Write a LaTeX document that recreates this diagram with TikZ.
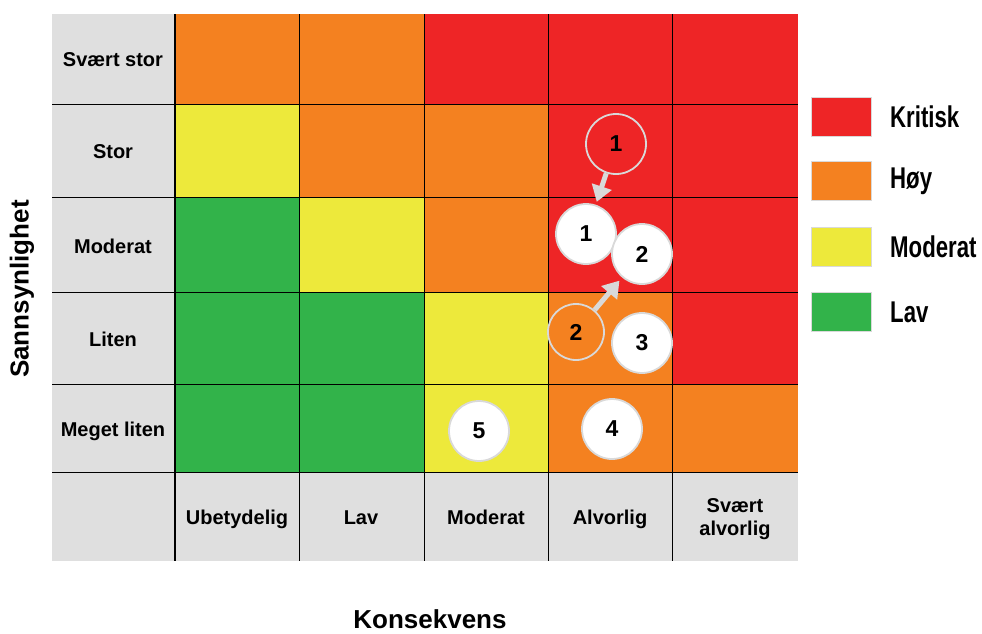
\documentclass[tikz,border=0pt]{standalone}
\usepackage{fontspec}
\setmainfont{Liberation Sans}
\newfontfamily\narrowsans[FakeStretch=0.74]{Liberation Sans}
\usetikzlibrary{arrows.meta}
\definecolor{riskred}{HTML}{EE2526}
\definecolor{riskorange}{HTML}{F48120}
\definecolor{riskyellow}{HTML}{EDE93B}
\definecolor{riskgreen}{HTML}{32B34A}
\definecolor{labelgray}{HTML}{DFDFDF}
\definecolor{ringgray}{HTML}{D9D9D9}

\begin{document}
\begin{tikzpicture}[x=1pt,y=-1pt,
 font=\bfseries\fontsize{20}{23}\selectfont,
 lbl/.style={inner sep=0pt,align=center,anchor=base},
 axislbl/.style={inner sep=0pt,font=\bfseries\fontsize{26}{30}\selectfont},
 ring/.style={circle,draw=ringgray,line width=1.8pt,minimum size=60pt,inner sep=0pt,
  font=\bfseries\fontsize{23}{26}\selectfont},
 dot/.style={ring,fill=white},
 legbox/.style={draw=ringgray,line width=0.6pt,minimum width=60pt,minimum height=39pt,inner sep=0pt},
 legtxt/.style={anchor=west,inner sep=0pt,font=\narrowsans\bfseries\fontsize{30}{34}\selectfont},
 move/.style={ringgray,line width=5pt,-{Triangle[length=16pt,width=20pt]}}]
\useasboundingbox (0,0) rectangle (982,633);

% matrix background and cells
\fill[labelgray] (52,14) rectangle (798,561);
\foreach \ya/\yb/\cA/\cB/\cC/\cD/\cE in {
 14/104/riskorange/riskorange/riskred/riskred/riskred,
 104/197/riskyellow/riskorange/riskorange/riskred/riskred,
 197/292/riskgreen/riskyellow/riskorange/riskred/riskred,
 292/384/riskgreen/riskgreen/riskyellow/riskorange/riskred,
 384/472/riskgreen/riskgreen/riskyellow/riskorange/riskorange}{
 \fill[\cA] (175,\ya) rectangle (299,\yb);
 \fill[\cB] (299,\ya) rectangle (424,\yb);
 \fill[\cC] (424,\ya) rectangle (548,\yb);
 \fill[\cD] (548,\ya) rectangle (672,\yb);
 \fill[\cE] (672,\ya) rectangle (798,\yb);
}
\foreach \y in {104,197,292,384,472}
 \draw[line width=0.8pt] (52,\y) -- (798,\y);
\foreach \x in {299,424,548,672}
 \draw[line width=0.8pt] (\x,14) -- (\x,561);
\draw[line width=2pt] (175,14) -- (175,561);

% row labels
\node[lbl] (rowA) at (113,66) {Svært stor};
\node[lbl] (rowB) at (113,158) {Stor};
\node[lbl] (rowC) at (113,253) {Moderat};
\node[lbl] (rowD) at (113,346) {Liten};
\node[lbl] (rowE) at (113,436) {Meget liten};

% column labels
\node[lbl] (colA) at (237,524) {Ubetydelig};
\node[lbl] (colB) at (361,524) {Lav};
\node[lbl] (colC) at (486,524) {Moderat};
\node[lbl] (colD) at (610,524) {Alvorlig};
\node[lbl] (colE) at (735,535) {Svært\\alvorlig};

\node[axislbl,rotate=90] (yaxis) at (22,289) {Sannsynlighet};
\node[axislbl] (xaxis) at (430,619) {Konsekvens};

% risks
\node[ring] (oldOne) at (616,144) {1};
\node[ring,minimum size=56pt] (oldTwo) at (576,332) {2};
\node[dot] (one) at (586,234) {1};
\node[dot] (two) at (642,254) {2};
\node[dot] (three) at (642,343) {3};
\node[dot] (four) at (612,429) {4};
\node[dot] (five) at (479,431) {5};
\draw[move,shorten >=3pt] (oldOne) -- (one);
\draw[move,shorten >=4pt] (oldTwo) -- (two);

% legend
\node[legbox,fill=riskred] (legA) at (841,116.5) {};
\node[legbox,fill=riskorange] (legB) at (841,181) {};
\node[legbox,fill=riskyellow] (legC) at (841,247) {};
\node[legbox,fill=riskgreen] (legD) at (841,312) {};
\node[legtxt] at (890,116.5) {Kritisk};
\node[legtxt] at (890,181) {Høy};
\node[legtxt] at (890,247) {Moderat};
\node[legtxt] at (890,312) {Lav};
\end{tikzpicture}
\end{document}
